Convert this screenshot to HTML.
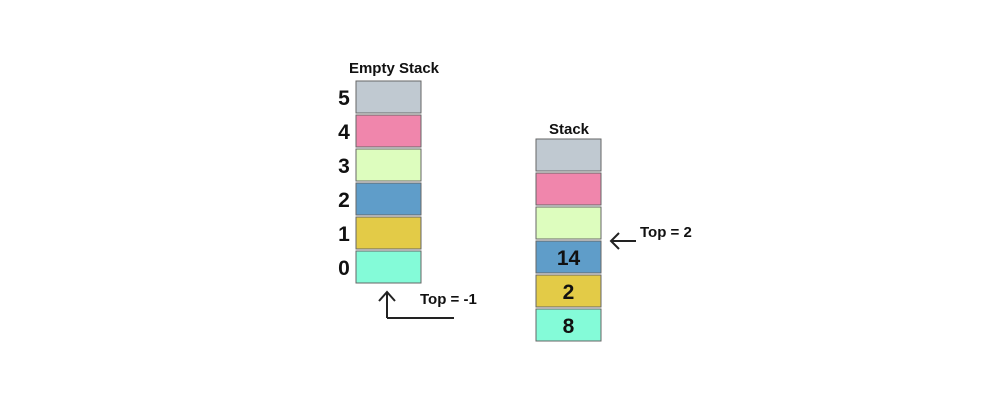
<!DOCTYPE html>
<html><head><meta charset="utf-8"><style>
html,body{margin:0;padding:0;background:#fff}
svg{display:block;font-family:"Liberation Sans",sans-serif}
</style></head><body>
<svg width="982" height="412" viewBox="0 0 982 412">
<text x="394" y="73" text-anchor="middle" font-size="15" font-weight="bold" fill="#111">Empty Stack</text>
<g id="left"></g>
<text x="569" y="134" text-anchor="middle" font-size="15" font-weight="bold" fill="#111">Stack</text>
<g id="right"></g>
<g stroke="#222" stroke-width="2" fill="none">
<path d="M387 318 V292 M379 301 L387 292 L395 301 M387 318 H454"/>
</g>
<text x="420" y="304" font-size="15" font-weight="bold" fill="#111">Top = -1</text>
<g stroke="#222" stroke-width="2" fill="none">
<path d="M636 241 H611 M619 233 L611 241 L619 249"/>
</g>
<text x="640" y="237" font-size="15" font-weight="bold" fill="#111">Top = 2</text>
</svg>
<script>
const colors=["#84fbd8","#e3cb47","#5f9dc9","#ddfdbe","#f086ac","#c0c9d1"];
const indices=["0","1","2","3","4","5"];
const values=["8","2","14","","",""];
const NS="http://www.w3.org/2000/svg";
function build(g,x,bottom,labels,inside){
  for(let i=0;i<colors.length;i++){
    const y=bottom-(i+1)*34+2;
    const r=document.createElementNS(NS,"rect");
    r.setAttribute("x",x);r.setAttribute("y",y);r.setAttribute("width",65);r.setAttribute("height",32);
    r.setAttribute("fill",colors[i]);r.setAttribute("stroke","#666");r.setAttribute("stroke-width","1");
    
    
    g.appendChild(r);
    if(labels){
      const t=document.createElementNS(NS,"text");
      t.setAttribute("x",x-12);t.setAttribute("y",y+24);t.setAttribute("text-anchor","middle");
      t.setAttribute("font-size","21");t.setAttribute("font-weight","bold");t.setAttribute("fill","#111");
      t.textContent=labels[i];
      
      
      g.appendChild(t);
    }
    if(inside&&inside[i]){
      const t=document.createElementNS(NS,"text");
      t.setAttribute("x",x+32.5);t.setAttribute("y",y+24);t.setAttribute("text-anchor","middle");
      t.setAttribute("font-size","21");t.setAttribute("font-weight","bold");t.setAttribute("fill","#111");
      t.textContent=inside[i];
      
      
      g.appendChild(t);
    }
  }
}
build(document.getElementById("left"),356,283,indices,null);
build(document.getElementById("right"),536,341,null,values);
</script>
</body></html>
